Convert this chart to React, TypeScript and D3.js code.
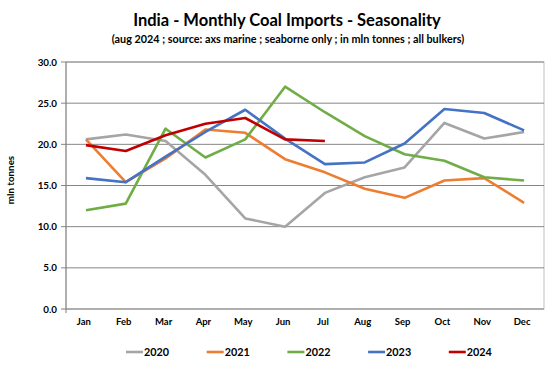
import React from "react";
import * as d3 from "d3";

const months = ["Jan", "Feb", "Mar", "Apr", "May", "Jun", "Jul", "Aug", "Sep", "Oct", "Nov", "Dec"];
const years = ["2020", "2021", "2022", "2023", "2024"];
const v2020 = [20.6, 21.2, 20.4, 16.3, 11.0, 10.0, 14.1, 16.0, 17.2, 22.6, 20.7, 21.5];
const v2021 = [20.6, 15.4, 18.3, 21.8, 21.4, 18.2, 16.6, 14.6, 13.5, 15.6, 15.9, 12.9];
const v2022 = [12.0, 12.8, 21.9, 18.4, 20.6, 27.0, 23.9, 21.0, 18.8, 18.0, 16.0, 15.6];
const v2023 = [15.9, 15.4, 18.5, 21.5, 24.2, 20.7, 17.6, 17.8, 20.1, 24.3, 23.8, 21.7];
const v2024 = [19.9, 19.2, 21.1, 22.5, 23.2, 20.6, 20.4];
const yTicks = [0, 5, 10, 15, 20, 25, 30];
const colors = ["#A5A5A5", "#ED7D31", "#70AD47", "#4472C4", "#C00000"];

const seriesValues = [v2020, v2021, v2022, v2023, v2024];

export default function App() {
  const W = 554, H = 365;
  const left = 66, right = 544, top = 62, bottom = 309;
  const x = d3.scaleBand<string>().domain(months).range([left, right]);
  const y = d3.scaleLinear().domain([0, 30]).range([bottom, top]);
  const line = d3
    .line<number>()
    .x((_, i) => (x(months[i]) as number) + x.bandwidth() / 2)
    .y((d) => y(d));
  const font = "Lato, 'Open Sans', sans-serif";
  return (
    <svg width={W} height={H} style={{ position: "absolute", left: 0, top: 0, background: "#fff" }} fontFamily={font}>
      <text x={287} y={26} textAnchor="middle" fontSize={16.5} fontWeight="bold" fill="#000">
        India - Monthly Coal Imports - Seasonality
      </text>
      <text x={288} y={43} textAnchor="middle" fontSize={10.8} fontWeight="bold" fill="#000">
        (aug 2024 ; source: axs marine ; seaborne only ; in mln tonnes ; all bulkers)
      </text>
      <rect x={left} y={top} width={right - left} height={bottom - top} fill="none" stroke="#BFBFBF" strokeWidth={1} />
      {yTicks.map((t) => (
        <g key={t}>
          <line x1={left - 5} x2={right} y1={y(t)} y2={y(t)} stroke={t === 0 ? "#7F7F7F" : "#868686"} strokeWidth={1} />
          <text x={57} y={y(t) + 3.5} textAnchor="end" fontSize={9.8} fontWeight="bold" fill="#000">
            {t.toFixed(1)}
          </text>
        </g>
      ))}
      <line x1={left} x2={left} y1={top} y2={bottom + 4} stroke="#7F7F7F" strokeWidth={1} />
      {months.map((m) => (
        <text key={m} x={(x(m) as number) + x.bandwidth() / 2 - 2} y={325} textAnchor="middle" fontSize={9.5} fontWeight="bold" fill="#000">
          {m}
        </text>
      ))}
      <text transform={`translate(14,${180}) rotate(-90)`} textAnchor="middle" fontSize={9.8} fontWeight="bold" fill="#000">
        mln tonnes
      </text>
      {seriesValues.map((vals, i) => (
        <path key={years[i]} d={line(vals) || ""} fill="none" stroke={colors[i]} strokeWidth={2.6} strokeLinejoin="round" />
      ))}
      {years.map((yr, i) => {
        const lx = 126 + i * 80.7;
        return (
          <g key={yr}>
            <line x1={lx} x2={lx + 17} y1={352} y2={352} stroke={colors[i]} strokeWidth={2.6} />
            <text x={lx + 18} y={356} fontSize={10.8} fontWeight="bold" fill="#000">
              {yr}
            </text>
          </g>
        );
      })}
    </svg>
  );
}
